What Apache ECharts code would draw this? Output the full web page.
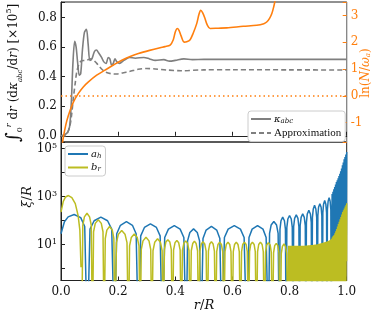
<!DOCTYPE html>
<html><head><meta charset="utf-8">
<script src="https://cdn.jsdelivr.net/npm/echarts@6/dist/echarts.min.js"></script>
<style>html,body{margin:0;padding:0;background:#fff}#c{width:374px;height:315px}</style>
</head><body><div id="c"></div>
<script>
// ---------- DATA ----------
const xTickLabels = ['0.0','0.2','0.4','0.6','0.8','1.0'];
const leftTicks = [0, 0.2, 0.4, 0.6, 0.8];
const rightTicks = [-1, 0, 1, 2, 3];
const logTickExp = [1, 3, 5];

// integral of dkappa/dr (x1e5), solid grey
const kappa = [[0,0],[0.01,0.005],[0.022,0.02],[0.03,0.06],[0.036,0.22],[0.042,0.5],[0.048,0.64],[0.053,0.6],[0.058,0.5],[0.064,0.41],[0.069,0.42],[0.075,0.58],[0.082,0.70],[0.089,0.72],[0.095,0.62],[0.101,0.51],[0.108,0.52],[0.117,0.57],[0.124,0.58],[0.132,0.56],[0.142,0.53],[0.15,0.50],[0.158,0.49],[0.165,0.53],[0.171,0.52],[0.177,0.48],[0.183,0.49],[0.189,0.52],[0.196,0.50],[0.205,0.49],[0.22,0.51],[0.24,0.53],[0.26,0.525],[0.29,0.53],[0.31,0.52],[0.33,0.51],[0.36,0.515],[0.38,0.505],[0.40,0.51],[0.43,0.52],[0.46,0.515],[0.5,0.517],[0.6,0.517],[0.8,0.517],[1.0,0.517]];
// approximation, dashed grey
const approx = [[0,0],[0.015,0.0],[0.03,0.06],[0.037,0.14],[0.043,0.25],[0.05,0.36],[0.055,0.43],[0.062,0.48],[0.07,0.505],[0.084,0.51],[0.095,0.515],[0.105,0.52],[0.115,0.51],[0.125,0.49],[0.136,0.465],[0.146,0.445],[0.157,0.43],[0.175,0.42],[0.195,0.418],[0.215,0.425],[0.24,0.435],[0.27,0.45],[0.3,0.455],[0.33,0.452],[0.37,0.445],[0.42,0.44],[0.5,0.446],[0.6,0.447],[0.8,0.446],[1.0,0.445]];
// ln(N/omega_a), orange, right axis
const lnN = [[0.003,-1.9],[0.01,-1.45],[0.02,-0.95],[0.032,-0.54],[0.045,-0.2],[0.061,0.09],[0.078,0.33],[0.096,0.52],[0.125,0.77],[0.154,0.96],[0.185,1.16],[0.213,1.33],[0.24,1.46],[0.271,1.58],[0.31,1.7],[0.347,1.8],[0.364,1.84],[0.382,1.9],[0.393,2.1],[0.4,2.39],[0.407,2.52],[0.413,2.45],[0.42,2.25],[0.431,2.01],[0.44,2.02],[0.452,2.1],[0.463,2.35],[0.475,2.7],[0.483,3.05],[0.489,3.2],[0.496,3.1],[0.504,2.89],[0.512,2.65],[0.522,2.52],[0.55,2.53],[0.58,2.54],[0.638,2.6],[0.685,2.64],[0.71,2.7],[0.72,2.76],[0.73,2.9],[0.738,3.08],[0.745,3.35],[0.75,3.6],[0.755,3.9],[0.76,4.2]];
const lnNRef = 0;

// a_h : [r/R, log10(xi/R)] ; -3 marks a node (below the axis)
const aHlog = [[0,1.45],[0.012,1.95],[0.025,2.15],[0.046,2.25],[0.069,2.12],[0.083,1.75],[0.092,-3],
[0.1015,1.64],[0.116,1.99],[0.1395,2.14],[0.163,1.99],[0.1775,1.64],[0.187,-3],
[0.195,1.45],[0.208,1.8],[0.229,1.95],[0.25,1.8],[0.263,1.45],[0.271,-3],
[0.279,1.36],[0.292,1.71],[0.313,1.86],[0.334,1.71],[0.347,1.36],[0.355,-3],
[0.363,1.29],[0.376,1.64],[0.3965,1.79],[0.417,1.64],[0.43,1.29],[0.438,-3],
[0.443,1.15],[0.451,1.5],[0.464,1.65],[0.477,1.5],[0.485,1.15],[0.49,-3],
[0.497,1.25],[0.508,1.6],[0.5265,1.75],[0.545,1.6],[0.556,1.25],[0.563,-3],
[0.572,1.29],[0.585,1.64],[0.6065,1.79],[0.628,1.64],[0.641,1.29],[0.65,-3],
[0.658,1.29],[0.669,1.64],[0.688,1.79],[0.707,1.64],[0.718,1.29],[0.726,-3],
[0.730,1.46],[0.7355,1.81],[0.745,1.96],[0.7545,1.81],[0.760,1.46],[0.764,-3],
[0.7665,1.64],[0.770,1.99],[0.776,2.14],[0.782,1.99],[0.7855,1.64],[0.788,-3],
[0.7905,1.71],[0.794,2.06],[0.800,2.21],[0.806,2.06],[0.8095,1.71],[0.812,-3],
[0.8143,1.74],[0.8177,2.09],[0.8235,2.24],[0.8293,2.09],[0.8327,1.74],[0.835,-3],
[0.837,1.78],[0.8405,2.13],[0.846,2.28],[0.8515,2.13],[0.855,1.78],[0.857,-3],
[0.859,1.92],[0.862,2.27],[0.8675,2.42],[0.873,2.27],[0.876,1.92],[0.878,-3],
[0.880,2.13],[0.883,2.48],[0.8875,2.63],[0.892,2.48],[0.895,2.13],[0.897,-3],
[0.899,2.2],[0.9015,2.55],[0.906,2.7],[0.9105,2.55],[0.913,2.2],[0.915,-3],
[0.9165,2.33],[0.919,2.68],[0.923,2.83],[0.927,2.68],[0.9295,2.33],[0.931,-3],
[0.9325,2.45],[0.935,2.8],[0.9385,2.95],[0.942,2.8],[0.9445,2.45],[0.946,-3],
[0.9475,1.2],[0.949,3.1],[0.9505,1.2],[0.952,3.2],[0.9535,1.2],[0.955,3.3],[0.9565,1.2],[0.958,3.4],[0.9595,1.2],[0.961,3.5],[0.9625,1.2],[0.964,3.6],[0.9655,1.2],[0.967,3.68],[0.9685,1.2],[0.970,3.76],[0.9715,1.2],[0.973,3.85],[0.9745,1.2],[0.976,3.95],[0.9775,1.2],[0.979,4.05],[0.9805,1.2],[0.982,4.17],[0.9835,1.2],[0.985,4.3],[0.9865,1.2],[0.988,4.42],[0.9895,1.2],[0.991,4.55],[0.9925,1.2],[0.994,4.65],[0.9955,1.2],[0.997,4.75],[0.9985,1.2],[1.0,4.85]];

// b_r : [r/R, log10(xi/R)] ; null = gap in the curve
const bRlog = [[0,2.35],[0.008,2.8],[0.016,2.98],[0.026,3.04],[0.038,2.95],[0.05,2.7],[0.06,2.2],[0.066,1.6],[0.070,0.05],[0.071,null],
[0.0725,-3],[0.0763,1.8],[0.0819,2.15],[0.091,2.3],[0.1,2.15],[0.106,1.8],[0.110,-3],
[0.114,1.53],[0.120,1.88],[0.1305,2.03],[0.141,1.88],[0.147,1.53],[0.151,-3],
[0.155,1.25],[0.1605,1.6],[0.170,1.75],[0.1795,1.6],[0.185,1.25],[0.189,-3],
[0.194,1.08],[0.201,1.43],[0.2125,1.58],[0.224,1.43],[0.231,1.08],[0.236,-3],
[0.240,0.94],[0.246,1.29],[0.2565,1.44],[0.267,1.29],[0.273,0.94],[0.277,-3],
[0.281,0.8],[0.287,1.15],[0.2975,1.3],[0.308,1.15],[0.314,0.8],[0.318,-3],
[0.322,0.74],[0.328,1.09],[0.338,1.24],[0.348,1.09],[0.354,0.74],[0.358,-3],
[0.362,0.8],[0.367,1.1],[0.374,1.2],[0.381,1.1],[0.386,0.8],[0.39,-3],
[0.394,0.77],[0.399,1.07],[0.4055,1.17],[0.412,1.07],[0.417,0.77],[0.421,-3],
[0.425,0.75],[0.43,1.05],[0.4365,1.15],[0.443,1.05],[0.448,0.75],[0.452,-3],
[0.456,0.74],[0.461,1.04],[0.467,1.14],[0.473,1.04],[0.478,0.74],[0.482,-3],
[0.486,0.72],[0.491,1.02],[0.497,1.12],[0.503,1.02],[0.508,0.72],[0.512,-3],
[0.516,0.72],[0.5205,1.02],[0.5265,1.12],[0.5325,1.02],[0.537,0.72],[0.541,-3],
[0.545,0.7],[0.5495,1.0],[0.5555,1.1],[0.5615,1.0],[0.566,0.7],[0.570,-3],
[0.574,0.7],[0.5785,1.0],[0.5845,1.1],[0.5905,1.0],[0.595,0.7],[0.599,-3],
[0.603,0.7],[0.6075,1.0],[0.6135,1.1],[0.6195,1.0],[0.624,0.7],[0.628,-3],
[0.632,0.7],[0.636,1.0],[0.642,1.1],[0.648,1.0],[0.652,0.7],[0.656,-3],
[0.66,0.7],[0.664,1.0],[0.67,1.1],[0.676,1.0],[0.68,0.7],[0.684,-3],
[0.688,0.7],[0.692,1.0],[0.698,1.1],[0.704,1.0],[0.708,0.7],[0.712,-3],
[0.716,0.68],[0.72,0.98],[0.726,1.08],[0.732,0.98],[0.736,0.68],[0.74,-3],
[0.744,0.65],[0.748,0.95],[0.7535,1.05],[0.759,0.95],[0.763,0.65],[0.767,-3],
[0.771,0.62],[0.775,0.92],[0.7805,1.02],[0.786,0.92],[0.79,0.62],[0.794,-3],
[0.797,0.95],[0.7985,-3],[0.800,0.95],[0.8015,0.3],[0.803,0.95],[0.8045,-3],[0.806,0.95],[0.8075,0.3],[0.809,0.95],[0.8105,-3],[0.812,0.95],[0.8135,0.3],[0.815,0.95],[0.8165,-3],[0.818,0.95],[0.8195,0.3],[0.821,0.95],[0.8225,-3],[0.824,0.95],[0.8255,0.3],[0.827,0.95],[0.8285,-3],[0.830,0.95],[0.8315,0.3],[0.833,0.95],[0.8345,-3],[0.836,0.95],[0.8375,0.3],[0.839,0.95],[0.8405,-3],[0.842,0.95],[0.8435,0.3],[0.845,0.95],[0.8465,-3],[0.848,0.95],[0.8495,0.3],[0.851,0.95],[0.8525,-3],[0.854,0.95],[0.8555,0.3],[0.857,0.96],[0.8585,-3],[0.860,0.96],[0.8615,0.3],[0.863,0.96],[0.8645,-3],[0.866,0.97],[0.8675,0.3],[0.869,0.97],[0.8705,-3],[0.872,0.97],[0.8735,0.3],[0.875,0.98],[0.8765,-3],[0.878,0.98],[0.8795,0.3],[0.881,0.98],[0.8825,-3],[0.884,0.99],[0.8855,0.3],[0.887,0.99],[0.8885,-3],[0.890,1.0],[0.8915,0.3],[0.893,1.0],[0.8945,-3],[0.896,1.0],[0.8975,0.3],[0.899,1.01],[0.9005,-3],[0.902,1.02],[0.9035,0.3],[0.905,1.03],[0.9065,-3],[0.908,1.04],[0.9095,0.3],[0.911,1.05],[0.9125,-3],[0.914,1.06],[0.9155,0.3],[0.917,1.07],[0.9185,-3],[0.920,1.08],[0.9215,0.3],[0.923,1.09],[0.9245,-3],[0.926,1.1],[0.9275,0.3],[0.929,1.11],[0.9305,-3],[0.932,1.12],[0.9335,0.3],[0.935,1.14],[0.9365,-3],[0.938,1.16],[0.9395,0.3],[0.941,1.18],[0.9425,-3],[0.944,1.2],[0.9455,0.3],[0.947,1.24],[0.9485,-3],[0.950,1.3],[0.9515,0.3],[0.953,1.35],[0.9545,-3],[0.956,1.4],[0.9575,0.3],[0.959,1.47],[0.9605,-3],[0.962,1.55],[0.9635,0.3],[0.965,1.65],[0.9665,-3],[0.968,1.75],[0.9695,0.3],[0.971,1.85],[0.9725,-3],[0.974,1.95],[0.9755,0.3],[0.977,2.05],[0.9785,-3],[0.980,2.15],[0.9815,0.3],[0.983,2.25],[0.9845,-3],[0.986,2.35],[0.9875,0.3],[0.989,2.43],[0.9905,-3],[0.992,2.5],[0.9935,0.3],[0.995,2.58],[0.9965,-3],[0.998,2.65],[0.9995,0.3],[1.0,2.72]];

// ---------- CHART ----------
const serif = 'DejaVu Serif';
const toVal = arr => arr.map(p => [p[0], p[1] === null ? null : Math.pow(10, p[1])]);
const near = (v, list) => list.some(t => Math.abs(v - t) < 1e-6);
const chart = echarts.init(document.getElementById('c'), null, {renderer: 'canvas'});
const gridL = 61, gridW = 285.7;
const tickStyle = {color: '#222', width: 1};
const legendBase = {
  orient: 'vertical', itemWidth: 20, itemHeight: 8, itemGap: 3,
  backgroundColor: '#fff', borderColor: '#ccc', borderWidth: 1, borderRadius: 3,
  padding: [3, 4, 3, 2], itemStyle: {opacity: 0}
};
const option = {
  animation: false,
  backgroundColor: '#fff',
  grid: [
    {left: gridL, top: 2, width: gridW, height: 140, show: true, borderColor: '#222', borderWidth: 1, containLabel: false},
    {left: gridL, top: 142, width: gridW, height: 138.5, show: true, borderColor: '#222', borderWidth: 1, containLabel: false}
  ],
  legend: [
    Object.assign({}, legendBase, {
      data: ['kappa', 'approx'], left: 248, top: 111,
      formatter: n => n === 'kappa' ? '{k|κ}{s|abc}' : '{t|Approximation}',
      textStyle: {fontFamily: serif, color: '#111', padding: [0,0,0,-2],
        rich: {k: {fontFamily: serif, fontStyle: 'italic', fontSize: 10, color: '#111'},
               s: {fontFamily: serif, fontStyle: 'italic', fontSize: 7, color: '#111', verticalAlign: 'bottom', padding: [4,0,0,0]},
               t: {fontFamily: 'Liberation Serif', fontSize: 11, color: '#111'}}}
    }),
    Object.assign({}, legendBase, {
      data: ['aH', 'bR'], left: 65, top: 146,
      formatter: n => n === 'aH' ? '{v|a}{s|h}' : '{v|b}{s|r}',
      textStyle: {fontFamily: serif, color: '#111', padding: [0,0,0,-2],
        rich: {v: {fontFamily: serif, fontStyle: 'italic', fontSize: 10, color: '#111'},
               s: {fontFamily: serif, fontStyle: 'italic', fontSize: 7, color: '#111', verticalAlign: 'bottom', padding: [4,0,0,0]}}}
    })
  ],
  xAxis: [
    {gridIndex: 0, type: 'value', min: 0, max: 1, interval: 0.2,
     axisLine: {lineStyle: {color: '#222'}}, axisTick: {inside: true, length: 4, lineStyle: tickStyle},
     axisLabel: {show: false}, splitLine: {show: false}},
    {gridIndex: 1, type: 'value', min: 0, max: 1, interval: 0.2,
     axisLine: {lineStyle: {color: '#222'}}, axisTick: {inside: true, length: 4, lineStyle: tickStyle},
     axisLabel: {fontFamily: serif, fontSize: 12, color: '#111', margin: 5,
       formatter: v => xTickLabels[Math.round(v / 0.2)]},
     splitLine: {show: false}}
  ],
  yAxis: [
    {gridIndex: 0, type: 'value', min: -0.042, max: 0.905,
     axisLine: {show: true, lineStyle: {color: '#222'}}, axisTick: {inside: true, length: 4, lineStyle: tickStyle},
     axisLabel: {fontFamily: serif, fontSize: 12, color: '#111', margin: 4,
       formatter: v => near(v, leftTicks) ? v.toFixed(1) : ''},
     splitLine: {show: false}},
    {gridIndex: 0, type: 'value', position: 'right', min: -1.73, max: 3.51,
     axisLine: {show: true, lineStyle: {color: '#888'}}, axisTick: {inside: true, length: 4, lineStyle: {color: '#ff7f0e'}},
     axisLabel: {fontFamily: serif, fontSize: 12, color: '#ff7f0e', margin: 4,
       formatter: v => near(v, rightTicks) ? String(Math.round(v)) : ''},
     splitLine: {show: false}},
    {gridIndex: 1, type: 'log', logBase: 10, min: Math.pow(10, -0.5), max: Math.pow(10, 5.27),
     axisLine: {show: true, lineStyle: {color: '#222'}}, axisTick: {inside: true, length: 4, lineStyle: tickStyle},
     axisLabel: {fontFamily: serif, fontSize: 12, color: '#111', margin: 4,
       formatter: v => { const l = Math.log10(v), e = Math.round(l);
         return (Math.abs(l - e) < 1e-6 && logTickExp.includes(e)) ? '10{sup|' + e + '}' : ''; },
       rich: {sup: {fontFamily: serif, fontSize: 8, color: '#111', verticalAlign: 'top', padding: [0,0,6,0]}}},
     splitLine: {show: false}}
  ],
  series: [
    {name: 'kappa', type: 'line', xAxisIndex: 0, yAxisIndex: 0, data: kappa, showSymbol: false, symbol: 'none', smooth: 0.3,
     lineStyle: {color: '#7f7f7f', width: 1.6}, itemStyle: {color: '#7f7f7f'}, z: 3},
    {name: 'approx', type: 'line', xAxisIndex: 0, yAxisIndex: 0, data: approx, showSymbol: false, symbol: 'none', smooth: 0.3,
     lineStyle: {color: '#7f7f7f', width: 1.6, type: [5, 3]}, itemStyle: {color: '#7f7f7f'}, z: 3},
    {name: 'lnN', type: 'line', xAxisIndex: 0, yAxisIndex: 1, data: lnN, showSymbol: false, symbol: 'none', smooth: 0.3,
     lineStyle: {color: '#ff7f0e', width: 1.6}, itemStyle: {color: '#ff7f0e'}, z: 4,
     markLine: {silent: true, symbol: 'none', label: {show: false},
       lineStyle: {color: '#ff7f0e', width: 1.5, type: [1.5, 3]}, data: [{yAxis: lnNRef}]}},
    {name: 'aH', type: 'line', xAxisIndex: 1, yAxisIndex: 2, data: toVal(aHlog), showSymbol: false, symbol: 'none',
     connectNulls: false, lineStyle: {color: '#1f77b4', width: 1.5}, itemStyle: {color: '#1f77b4'}, z: 3},
    {name: 'bR', type: 'line', xAxisIndex: 1, yAxisIndex: 2, data: toVal(bRlog), showSymbol: false, symbol: 'none',
     connectNulls: false, lineStyle: {color: '#bcbd22', width: 1.5}, itemStyle: {color: '#bcbd22'}, z: 4}
  ],
  graphic: [
    {type: 'text', x: 14, y: 73, rotation: Math.PI / 2, style: {
      text: '{i|∫}{l|0}{u|r}{t| d}{it|r}{t| (d}{it|κ}{s|abc}{t|/d}{it|r}{t|) [×10}{p|5}{t|]}',
      align: 'center', verticalAlign: 'middle',
      rich: {
        i: {fontFamily: serif, fontSize: 19, fill: '#111'},
        l: {fontFamily: serif, fontSize: 8, fill: '#111', verticalAlign: 'bottom'},
        u: {fontFamily: serif, fontStyle: 'italic', fontSize: 8, fill: '#111', verticalAlign: 'top'},
        t: {fontFamily: serif, fontSize: 12, fill: '#111'},
        it: {fontFamily: serif, fontStyle: 'italic', fontSize: 12, fill: '#111'},
        s: {fontFamily: serif, fontStyle: 'italic', fontSize: 7, fill: '#111', verticalAlign: 'bottom'},
        p: {fontFamily: serif, fontSize: 8, fill: '#111', verticalAlign: 'top'}
      }}},
    {type: 'text', x: 366, y: 73, rotation: Math.PI / 2, style: {
      text: '{t|ln(}{it|N}{t|/}{it|ω}{s|a}{t|)}', align: 'center', verticalAlign: 'middle',
      rich: {
        t: {fontFamily: serif, fontSize: 12, fill: '#ff7f0e'},
        it: {fontFamily: serif, fontStyle: 'italic', fontSize: 12, fill: '#ff7f0e'},
        s: {fontFamily: serif, fontStyle: 'italic', fontSize: 7, fill: '#ff7f0e', verticalAlign: 'bottom'}
      }}},
    {type: 'text', x: 28, y: 197, rotation: Math.PI / 2, style: {
      text: '{it|ξ}{t|/}{it|R}', align: 'center', verticalAlign: 'middle',
      rich: {
        t: {fontFamily: serif, fontSize: 13, fill: '#111'},
        it: {fontFamily: serif, fontStyle: 'italic', fontSize: 13, fill: '#111'}
      }}},
    {type: 'text', x: 204, y: 306, style: {
      text: '{it|r}{t|/}{it|R}', align: 'center', verticalAlign: 'middle',
      rich: {
        t: {fontFamily: serif, fontSize: 13, fill: '#111'},
        it: {fontFamily: serif, fontStyle: 'italic', fontSize: 13, fill: '#111'}
      }}}
  ]
};
chart.setOption(option);
</script>
</body></html>
